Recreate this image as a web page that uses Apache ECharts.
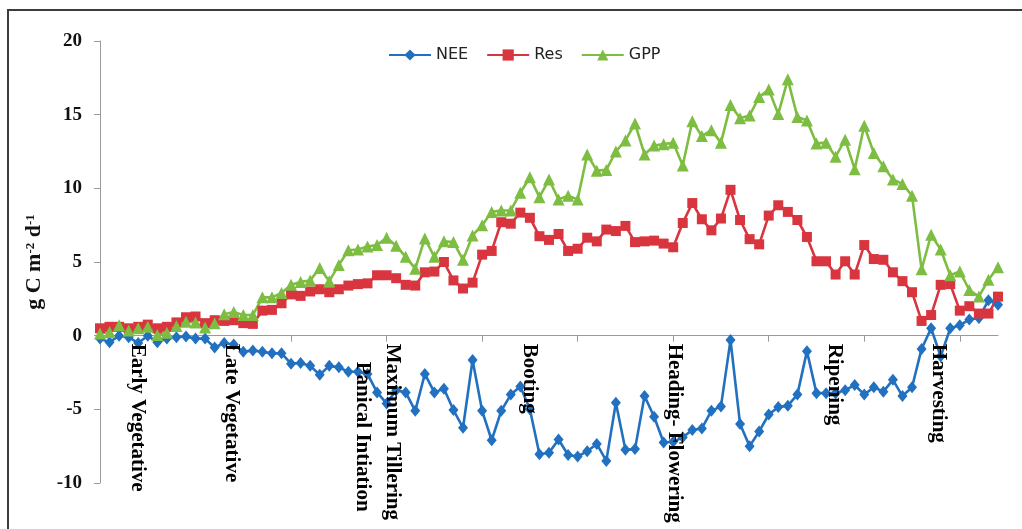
<!DOCTYPE html>
<html>
<head>
<meta charset="utf-8">
<script src="https://cdn.jsdelivr.net/npm/echarts@6/dist/echarts.min.js"></script>
<style>
html,body{margin:0;padding:0;background:#fff;}
#chart{width:1022px;height:529px;}
</style>
</head>
<body>
<div id="chart"></div>
<script>
// Day index of each observation (95 points)
var days = [];
for (var d = 1; d <= 95; d++) days.push(String(d));

var neeValues = [
  -0.2,-0.45,0.0,-0.1,-0.5,0.0,-0.45,-0.2,-0.1,-0.05,
  -0.2,-0.2,-0.8,-0.5,-0.6,-1.1,-1.0,-1.1,-1.2,-1.2,
  -1.9,-1.85,-2.05,-2.65,-2.05,-2.15,-2.45,-2.45,-2.6,-3.85,
  -4.6,-3.7,-3.85,-5.1,-2.6,-3.85,-3.6,-5.05,-6.25,-1.65,
  -5.1,-7.1,-5.1,-4.0,-3.45,-5.0,-8.05,-7.95,-7.05,-8.1,
  -8.2,-7.85,-7.35,-8.5,-4.55,-7.75,-7.7,-4.1,-5.5,-7.25,
  -7.2,-6.9,-6.4,-6.3,-5.1,-4.8,-0.3,-6.0,-7.5,-6.5,
  -5.35,-4.85,-4.75,-4.0,-1.05,-3.9,-3.9,-3.9,-3.7,-3.35,
  -4.0,-3.5,-3.8,-3.0,-4.1,-3.5,-0.9,0.5,-1.4,0.5,
  0.7,1.1,1.2,2.4,2.1
];
var resValues = [
  0.5,0.6,0.6,0.5,0.6,0.75,0.5,0.6,0.9,1.25,
  1.3,0.85,1.05,1.0,1.05,0.85,0.8,1.7,1.75,2.2,
  2.8,2.7,3.0,3.15,2.95,3.15,3.4,3.5,3.55,4.1,
  4.1,3.9,3.45,3.4,4.3,4.35,5.0,3.75,3.2,3.6,
  5.5,5.75,7.7,7.6,8.35,8.0,6.75,6.5,6.9,5.75,
  5.9,6.65,6.4,7.2,7.1,7.45,6.35,6.4,6.45,6.25,
  6.0,7.65,9.0,7.9,7.15,7.95,9.9,7.85,6.55,6.2,
  8.15,8.85,8.4,7.85,6.7,5.05,5.05,4.15,5.05,4.15,
  6.15,5.2,5.15,4.3,3.7,2.95,1.0,1.4,3.45,3.5,
  1.7,2.0,1.5,1.5,2.65
];
var gppValues = [
  0.15,0.25,0.7,0.35,0.5,0.6,0.05,0.2,0.65,0.95,
  0.9,0.55,0.85,1.45,1.6,1.4,1.4,2.6,2.6,2.9,
  3.45,3.65,3.75,4.6,3.7,4.8,5.8,5.85,6.05,6.15,
  6.65,6.1,5.35,4.55,6.6,5.35,6.4,6.35,5.15,6.8,
  7.5,8.4,8.5,8.5,9.7,10.75,9.4,10.6,9.25,9.5,
  9.25,12.3,11.2,11.25,12.5,13.25,14.4,12.3,12.9,13.0,
  13.1,11.55,14.55,13.55,13.95,13.1,15.65,14.75,14.95,16.2,
  16.7,15.05,17.4,14.85,14.6,13.05,13.1,12.15,13.3,11.3,
  14.25,12.4,11.5,10.6,10.3,9.5,4.5,6.85,5.85,4.1,
  4.35,3.1,2.65,3.8,4.65
];
var seriesNames = ['NEE', 'Res', 'GPP'];
var yTicks = [-10, -5, 0, 5, 10, 15, 20];

// Crop growth stages and the day index (category position) where they are annotated
var stageNames = ['Early Vegetative', 'Late Vegetative', 'Panical Intiation', 'Maximum Tillering',
                  'Booting', 'Heading- Flowering', 'Ripening', 'Harvesting'];
var stageAt = [3.9, 13.8, 27.5, 30.6, 45.0, 60.1, 76.9, 87.8];

var chart = echarts.init(document.getElementById('chart'), null, {renderer: 'canvas'});

var serif = '"Liberation Serif", "Times New Roman", serif';
var colors = ['#2171c0', '#d8353e', '#7dbd42'];
var symbols = ['diamond', 'rect', 'triangle'];
var symbolSizes = [[10, 12], 10, 12];
var valueSets = [neeValues, resValues, gppValues];

var series = seriesNames.map(function (n, i) {
  return {
    name: n,
    type: 'line',
    data: valueSets[i],
    symbol: symbols[i],
    symbolSize: symbolSizes[i],
    showAllSymbol: true,
    lineStyle: {width: 2.6, color: colors[i]},
    itemStyle: {color: colors[i]},
    emphasis: {disabled: true}
  };
});

chart.setOption({
  animation: false,
  color: colors,
  grid: {left: 100, right: 24, top: 41, bottom: 46, containLabel: false},
  legend: {
    data: seriesNames,
    left: 383,
    top: 42,
    itemWidth: 42,
    itemHeight: 14,
    itemGap: 18,
    textStyle: {fontFamily: '"DejaVu Sans", sans-serif', fontSize: 16, color: '#222'}
  },
  xAxis: {
    type: 'category',
    data: days,
    boundaryGap: false,
    axisLine: {onZero: true, lineStyle: {color: '#9a9a9a', width: 1}},
    axisTick: {show: true, interval: 9, length: 6, lineStyle: {color: '#9a9a9a'}},
    axisLabel: {show: false},
    splitLine: {show: false}
  },
  yAxis: {
    type: 'value',
    min: yTicks[0],
    max: yTicks[yTicks.length - 1],
    interval: 5,
    axisLine: {show: true, lineStyle: {color: '#9a9a9a', width: 1}},
    axisTick: {show: true, length: 6, lineStyle: {color: '#9a9a9a'}},
    splitLine: {show: false},
    axisLabel: {
      margin: 18,
      fontFamily: serif,
      fontWeight: 'bold',
      fontSize: 19,
      color: '#111'
    },
    name: '{b|g C m}{s|-2}{b| d}{s|-1}',
    nameLocation: 'middle',
    nameRotate: 90,
    nameGap: 53,
    nameTextStyle: {
      rich: {
        b: {fontFamily: serif, fontWeight: 'bold', fontSize: 22, color: '#111', verticalAlign: 'bottom'},
        s: {fontFamily: serif, fontWeight: 'bold', fontSize: 13, color: '#111', verticalAlign: 'top'}
      }
    }
  },
  series: series
});

function catToPx(v) {
  var lo = Math.floor(v), hi = Math.min(lo + 1, days.length - 1);
  var pLo = chart.convertToPixel({xAxisIndex: 0}, lo);
  var pHi = chart.convertToPixel({xAxisIndex: 0}, hi);
  return pLo + (pHi - pLo) * (v - lo);
}

var zeroY = chart.convertToPixel({yAxisIndex: 0}, 0);
var extraDrop = {'Panical Intiation': 18};
var graphics = [{
  type: 'rect',
  shape: {x: 8, y: 10, width: 1040, height: 560},
  style: {fill: 'none', stroke: '#3c3c3c', lineWidth: 2},
  silent: true,
  z: 0
}];
stageNames.forEach(function (name, i) {
  graphics.push({
    type: 'text',
    x: catToPx(stageAt[i]),
    y: zeroY + 8 + (extraDrop[name] || 0),
    rotation: -Math.PI / 2,
    silent: true,
    z: 10,
    style: {
      text: name,
      font: 'bold 21px ' + serif,
      fill: '#000',
      align: 'left',
      verticalAlign: 'middle',
      textAlign: 'left',
      textVerticalAlign: 'middle'
    }
  });
});
chart.setOption({graphic: graphics});
</script>
</body>
</html>
